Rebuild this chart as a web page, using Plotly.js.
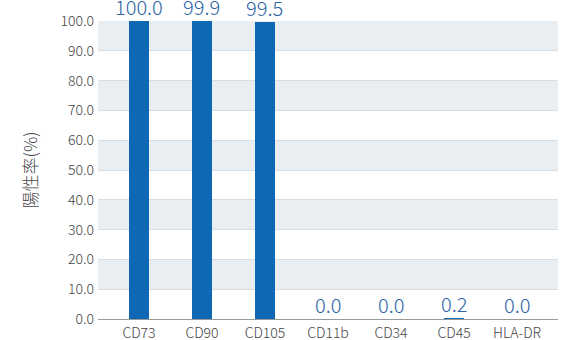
<!DOCTYPE html>
<html>
<head>
<meta charset="utf-8">
<script src="https://cdn.plot.ly/plotly-3.0.1.min.js"></script>
<style>html,body{margin:0;padding:0;background:#fff;}#chart{width:582px;height:340px;}</style>
</head>
<body>
<div id="chart"></div>
<script>
const categories = ["CD73", "CD90", "CD105", "CD11b", "CD34", "CD45", "HLA-DR"];
const positiveRate = [100.0, 99.9, 99.5, 0.0, 0.0, 0.2, 0.0];
const yTicks = [0, 10, 20, 30, 40, 50, 60, 70, 80, 90, 100];
const shadedBandStarts = [10, 30, 50, 70, 90];
const yTitle = "陽性率(%)";

const FONT = '"Noto Sans CJK JP", "Noto Sans", sans-serif';

const shapes = shadedBandStarts.map(s => ({
  type: 'rect', xref: 'paper', yref: 'y', x0: 0, x1: 1, y0: s, y1: s + 10,
  fillcolor: '#e8eef2', line: {width: 0}, layer: 'below'
}));

const valueLabels = categories.map((c, i) => ({
  x: c, y: positiveRate[i], xref: 'x', yref: 'y',
  text: positiveRate[i].toFixed(1),
  showarrow: false, yanchor: 'bottom', xanchor: 'center', yshift: -2,
  font: {family: FONT, size: 20, color: '#2c65a6', weight: 300}
}));

const trace = {
  type: 'bar',
  x: categories,
  y: positiveRate,
  marker: {color: '#0e68b4'},
  width: 0.31,
  cliponaxis: false,
  hoverinfo: 'none'
};

const layout = {
  width: 582, height: 340,
  margin: {l: 98, r: 24, t: 21, b: 21},
  paper_bgcolor: '#ffffff',
  plot_bgcolor: 'rgba(0,0,0,0)',
  showlegend: false,
  font: {family: FONT, color: '#444'},
  xaxis: {
    type: 'category',
    range: [-0.65, 6.65],
    showgrid: false,
    showline: false,
    zeroline: false,
    ticks: '',
    ticklabelstandoff: 4,
    tickfont: {family: FONT, size: 14, color: '#444', weight: 300},
    fixedrange: true
  },
  yaxis: {
    range: [0, 100],
    tickvals: yTicks,
    ticktext: yTicks.map(v => v.toFixed(1)),
    showgrid: true,
    gridcolor: '#d6dde3',
    gridwidth: 1,
    zeroline: true,
    zerolinecolor: '#9a9a9a',
    zerolinewidth: 1,
    showline: false,
    ticks: '',
    ticklen: 0,
    ticklabelstandoff: 3,
    tickfont: {family: FONT, size: 14, color: '#444', weight: 300},
    title: {text: yTitle, font: {family: FONT, size: 17, color: '#444', weight: 300}, standoff: 18},
    fixedrange: true
  },
  shapes: shapes,
  annotations: valueLabels,
  bargap: 0
};

Plotly.newPlot('chart', [trace], layout, {displayModeBar: false, staticPlot: true});
</script>
</body>
</html>
